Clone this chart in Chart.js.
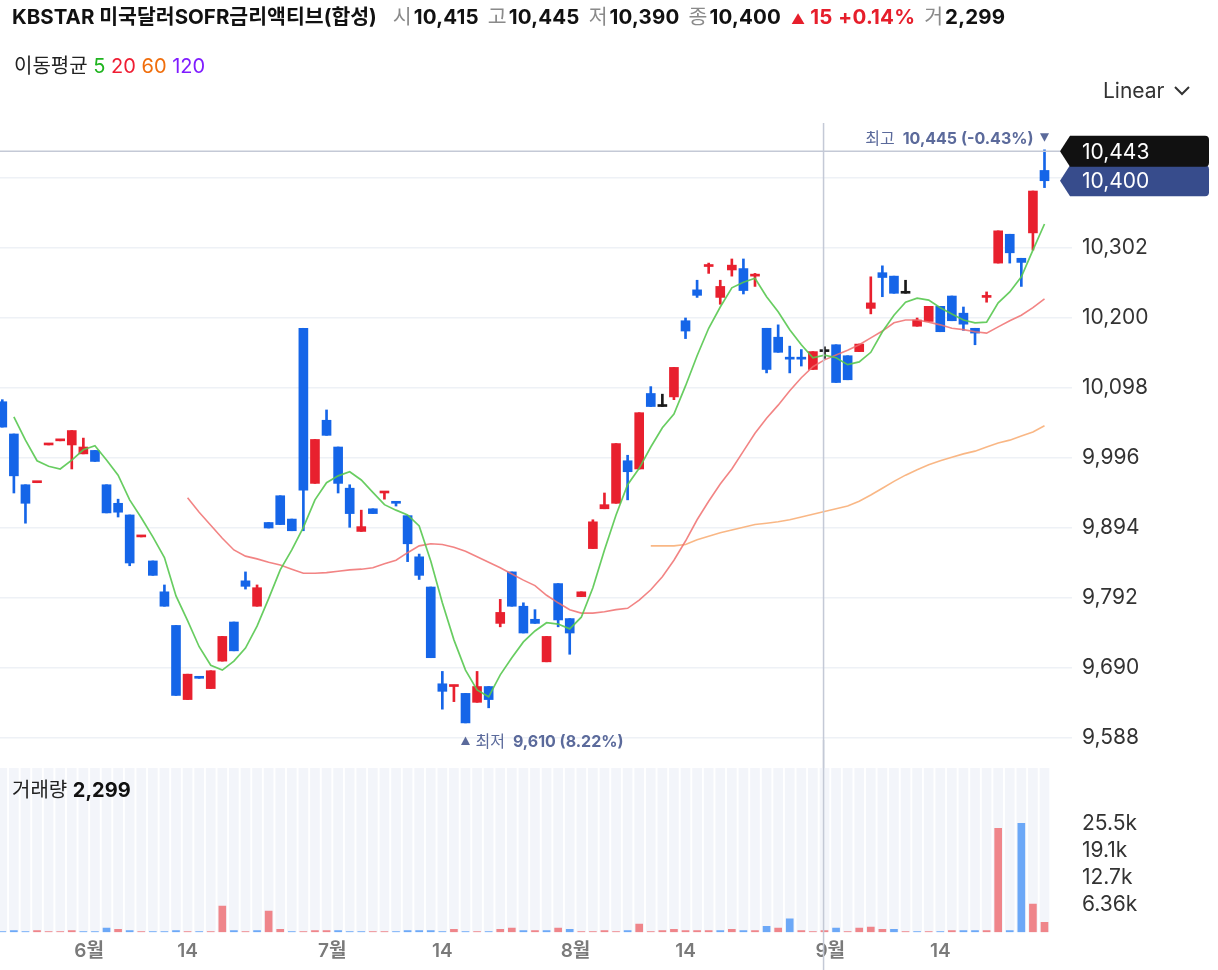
<!DOCTYPE html>
<html><head><meta charset="utf-8">
<script src="https://cdn.jsdelivr.net/npm/chart.js@4.4.1/dist/chart.umd.min.js"></script>
<style>
html,body{margin:0;padding:0;background:#fff;}
body{width:1218px;height:970px;position:relative;overflow:hidden;font-family:Inter,"Noto Sans CJK KR",sans-serif;color:#111;}
.abs{position:absolute;white-space:nowrap;}
#hdr{left:12px;top:4px;font-size:20.5px;line-height:26px;z-index:5;}
#hdr b{font-weight:700;color:#111;}
#hdr b.n{font-size:20.5px;letter-spacing:0.2px;}
.lb{color:#8a8a8a;margin-left:9px;margin-right:2px;}
.lb.first{margin-left:16px;}
.up{color:#e61e2b;margin-left:10px;}
.up b.n{color:#e61e2b !important;}
.tri{font-size:14px;margin-right:5px;}
#ma{left:14px;top:53px;font-size:20px;line-height:26px;color:#222;z-index:5;}
#lin{left:1103px;top:78px;font-size:21px;line-height:26px;color:#333;z-index:5;}
#volt{left:12px;top:777px;font-size:20px;line-height:26px;color:#222;z-index:5;}
#volt b{font-weight:700;color:#111;}
#wa{left:0;top:0;width:1218px;height:790px;}
#wb{left:0;top:740px;width:1218px;height:240px;}
</style></head>
<body>
<div id="hdr" class="abs"></div>
<div id="ma" class="abs"></div>
<div id="lin" class="abs">Linear<svg width="18" height="12" style="margin-left:8px;vertical-align:1px"><polyline points="2,2 9,9 16,2" fill="none" stroke="#333" stroke-width="2"/></svg></div>
<div id="wa" class="abs"><canvas id="ca" width="1218" height="790"></canvas></div>
<div id="wb" class="abs"><canvas id="cb" width="1218" height="240"></canvas></div>
<div id="volt" class="abs"></div>
<script>
// ---------------- DATA ----------------
const title = 'KBSTAR 미국달러SOFR금리액티브(합성)';
const opens = [10078,10031,9957,9960,10015,10021,10015,10002,10007,9957,
9930,9913,9881,9846,9801,9752,9644,9675,9660,9700,
9757,9817,9780,9902,9941,9907,10185,9959,10051,10012,
9952,9889,9922,9945,9930,9912,9852,9808,9667,9663,
9653,9640,9663,9755,9830,9780,9761,9699,9813,9762,
9794,9864,9922,9930,9992,9980,10090,10071,10085,10196,
10241,10275,10230,10270,10272,10261,10185,10172,10141,10141,
10125,10151,10161,10145,10151,10214,10266,10261,10236,10188,
10195,10217,10232,10207,10185,10230,10280,10322,10287,10324,
10415];
const highs = [10081,10031,9957,9960,10015,10021,10036,10025,10007,9957,
9936,9913,9881,9846,9811,9752,9681,9675,9686,9736,
9757,9830,9811,9902,9941,9907,10185,10023,10066,10012,
9957,9920,9922,9945,9930,9912,9856,9808,9685,9665,
9653,9685,9663,9790,9830,9785,9775,9736,9813,9762,
9801,9906,9945,10017,10000,10062,10100,10089,10128,10200,
10255,10280,10255,10286,10286,10265,10185,10190,10159,10154,
10151,10158,10161,10145,10162,10260,10276,10261,10255,10200,
10217,10217,10232,10216,10185,10238,10327,10322,10287,10385,
10445];
const lows = [10041,9945,9901,9960,10015,10021,9980,10002,9991,9916,
9910,9839,9881,9825,9780,9650,9644,9675,9660,9700,
9715,9805,9780,9894,9899,9890,9890,9959,10029,9945,
9895,9889,9915,9936,9926,9845,9819,9705,9630,9641,
9610,9640,9632,9750,9780,9741,9755,9699,9750,9710,
9794,9864,9922,9930,9935,9980,10071,10071,10081,10170,
10230,10265,10220,10261,10235,10246,10120,10150,10120,10130,
10125,10141,10106,10110,10151,10206,10231,10236,10236,10188,
10195,10180,10196,10182,10161,10223,10280,10280,10246,10299,
10390];
const closes = [10041,9970,9930,9960,10015,10021,10036,10012,9991,9916,
9917,9843,9881,9825,9780,9650,9681,9675,9686,9736,
9715,9809,9807,9894,9899,9890,9949,10023,10029,9959,
9915,9896,9915,9945,9930,9871,9825,9705,9656,9663,
9610,9663,9644,9771,9780,9741,9755,9736,9760,9741,
9801,9903,9928,10017,9976,10062,10071,10071,10128,10181,
10233,10275,10246,10277,10240,10261,10125,10150,10140,10140,
10151,10151,10106,10110,10162,10222,10259,10236,10236,10197,
10217,10180,10196,10191,10178,10230,10327,10295,10281,10385,
10400];
const volumes = [150,400,150,400,150,150,400,150,150,950,
700,350,150,150,150,350,150,150,150,6130,
350,150,350,4950,700,150,150,350,350,350,
150,150,150,150,150,350,350,350,150,700,
150,150,150,700,950,350,350,350,950,700,
150,150,350,150,350,1900,150,350,700,350,
350,350,350,700,350,350,1400,950,3100,350,
150,350,950,150,950,1200,700,700,150,150,
150,150,350,350,350,350,24300,350,25452,6600,
2299];
const ma5From = 1;
const ma5 = [10056,10022,9992,9984,9980,9993,10008,10014,9993,
9971,9935,9909,9881,9851,9795,9759,9721,9694,9687,
9700,9719,9751,9791,9833,9862,9895,9935,9960,9970,
9976,9964,9946,9928,9920,9913,9897,9846,9785,9731,
9687,9658,9648,9680,9705,9728,9744,9756,9754,9747,
9764,9807,9862,9913,9957,9981,10012,10040,10060,10101,
10145,10185,10216,10244,10252,10258,10231,10209,10183,10161,
10142,10146,10142,10132,10136,10150,10180,10204,10223,10229,
10226,10215,10206,10197,10193,10194,10222,10238,10260,10299,
10337];
const ma20From = 16;
const ma20 = [9938,9917,9898,9879,
9862,9853,9849,9844,9840,9834,9828,9828,9829,9831,
9833,9834,9836,9842,9847,9858,9868,9871,9870,9866,
9860,9852,9844,9836,9827,9818,9810,9796,9785,9775,
9770,9770,9772,9775,9777,9789,9804,9823,9847,9875,
9906,9933,9958,9980,10006,10032,10054,10073,10094,10113,
10129,10139,10146,10153,10161,10171,10181,10193,10197,10197,
10194,10190,10185,10183,10180,10178,10187,10196,10204,10215,
10228];
const ma60From = 56;
const ma60 = [9868,9868,9868,9870,
9877,9882,9887,9891,9895,9899,9901,9903,9906,9910,
9914,9918,9922,9926,9933,9942,9952,9962,9971,9979,
9986,9992,9997,10002,10006,10012,10018,10022,10028,10034,
10043];
const priceTicks = [9588,9690,9792,9894,9996,10098,10200,10302,10404];
const volTicks = [6363,12726,19089,25452];
const volTickLabels = ['6.36k','12.7k','19.1k','25.5k'];
const xTickPos = [7.5,16,28.5,38,49.5,59,71.5,81];
const xTickLabels = ['6월','14','7월','14','8월','14','9월','14'];
const maPeriods = ['5','20','60','120'];
const crossIdx = 70.92, crossPrice = 10443;

// ---------------- STYLE ----------------
const FAM = 'Inter, "Noto Sans CJK KR", sans-serif';
Chart.defaults.font.family = FAM;
const RED = '#e8202e', BLUE = '#1565e8', BLACK = '#1a1a1a';
const VRED = '#ef858a', VBLUE = '#6ca8f7';
const MACOL = ['#1fb41f','#ef1d33','#f06e0c','#7f1cff'];
const MALINE = ['rgba(88,200,80,0.9)','rgba(240,110,110,0.85)','rgba(248,175,120,0.9)'];
const ANN = '#5b6a9b', CROSS = '#c4c9d6';
const X_MIN = -0.1986, X_MAX = 92.375;
const fmt = v => Math.round(v).toLocaleString('en-US');

const N = closes.length;
const candleColor = i => {
  const o = opens[i], c = closes[i];
  if (c > o) return RED;
  if (c < o) return BLUE;
  const p = i > 0 ? closes[i-1] : o;
  return c > p ? RED : (c < p ? BLUE : BLACK);
};
const cColors = closes.map((_, i) => candleColor(i));
const vColors = closes.map((c, i) => (i > 0 && c >= closes[i-1]) ? VRED : VBLUE);
const series = (arr, from) => arr.map((v, k) => ({x: from + k, y: v}));

// ---------------- HTML TEXT ----------------
const last = N - 1;
const chg = closes[last] - closes[last-1];
const pct = chg / closes[last-1] * 100;
document.getElementById('hdr').innerHTML =
  `<b>${title}</b><span class="lb first">시</span><b class="n">${fmt(opens[last])}</b>` +
  `<span class="lb">고</span><b class="n">${fmt(highs[last])}</b>` +
  `<span class="lb">저</span><b class="n">${fmt(lows[last])}</b>` +
  `<span class="lb">종</span><b class="n">${fmt(closes[last])}</b>` +
  `<span class="up"><span class="tri">${chg >= 0 ? '▲' : '▼'}</span><b class="n">${fmt(Math.abs(chg))}</b> <b class="n">${chg >= 0 ? '+' : ''}${pct.toFixed(2)}%</b></span>` +
  `<span class="lb">거</span><b class="n">${fmt(volumes[last])}</b>`;
document.getElementById('ma').innerHTML = '이동평균 ' +
  maPeriods.map((p, k) => `<span style="color:${MACOL[k]}">${p}</span>`).join(' ');
document.getElementById('volt').innerHTML = `거래량 <b>${fmt(volumes[last])}</b>`;

// ---------------- CHART A (price) ----------------
function drawTag(ctx, tipX, yc, rightX, color, text, textX) {
  const h = 15.5, lx = tipX + 10, r = 4;
  ctx.beginPath();
  ctx.moveTo(tipX, yc);
  ctx.lineTo(lx, yc - h);
  ctx.lineTo(rightX - r, yc - h);
  ctx.quadraticCurveTo(rightX, yc - h, rightX, yc - h + r);
  ctx.lineTo(rightX, yc + h - r);
  ctx.quadraticCurveTo(rightX, yc + h, rightX - r, yc + h);
  ctx.lineTo(lx, yc + h);
  ctx.closePath();
  ctx.fillStyle = color; ctx.fill();
  ctx.fillStyle = '#fff';
  ctx.font = '21px ' + FAM;
  ctx.textAlign = 'left'; ctx.textBaseline = 'middle';
  ctx.fillText(text, textX, yc + 1);
}
const overlayA = {
  id: 'overlayA',
  afterDraw(chart) {
    const {ctx, chartArea: ca, scales: {x, y}} = chart;
    ctx.save();
    const xc = x.getPixelForValue(crossIdx);
    const yc = y.getPixelForValue(crossPrice);
    ctx.strokeStyle = CROSS; ctx.lineWidth = 1.5;
    ctx.beginPath(); ctx.moveTo(xc, ca.top + 3); ctx.lineTo(xc, chart.height); ctx.stroke();
    ctx.beginPath(); ctx.moveTo(0, yc); ctx.lineTo(ca.right - 12, yc); ctx.stroke();

    // high annotation
    const hi = Math.max(...highs), hiI = highs.indexOf(hi);
    const hx = x.getPixelForValue(hiI), hy = y.getPixelForValue(hi) - 12;
    ctx.fillStyle = ANN; ctx.textBaseline = 'middle';
    ctx.beginPath(); ctx.moveTo(hx - 4.5, hy - 4.5); ctx.lineTo(hx + 4.5, hy - 4.5); ctx.lineTo(hx, hy + 4); ctx.closePath(); ctx.fill();
    const hiPct = (closes[last] - hi) / hi * 100;
    const t2 = `${fmt(hi)} (${hiPct.toFixed(2)}%)`;
    ctx.textAlign = 'right';
    ctx.font = 'bold 16px ' + FAM; ctx.fillText(t2, hx - 11, hy + 1);
    const w2 = ctx.measureText(t2).width;
    ctx.font = '16px ' + FAM; ctx.fillText('최고', hx - 11 - w2 - 8, hy + 1);

    // low annotation
    const lo = Math.min(...lows), loI = lows.indexOf(lo);
    const lx = x.getPixelForValue(loI), ly = y.getPixelForValue(lo) + 18;
    ctx.beginPath(); ctx.moveTo(lx - 4.5, ly + 4); ctx.lineTo(lx + 4.5, ly + 4); ctx.lineTo(lx, ly - 4.5); ctx.closePath(); ctx.fill();
    const loPct = (closes[last] - lo) / lo * 100;
    ctx.textAlign = 'left';
    ctx.font = '16px ' + FAM; ctx.fillText('최저', lx + 10, ly + 1);
    const w1 = ctx.measureText('최저').width;
    ctx.font = 'bold 16px ' + FAM; ctx.fillText(`${fmt(lo)} (${loPct.toFixed(2)}%)`, lx + 10 + w1 + 8, ly + 1);

    // price tags
    const rightX = chart.width - 9;
    drawTag(ctx, ca.right - 12, y.getPixelForValue(closes[last]), rightX, '#374c8c', fmt(closes[last]), ca.right + 10);
    drawTag(ctx, ca.right - 12, yc, rightX, '#111111', fmt(crossPrice), ca.right + 10);
    ctx.restore();
  }
};

new Chart(document.getElementById('ca'), {
  type: 'bar',
  data: {
    datasets: [
      {type: 'line', data: series(ma5, ma5From), borderColor: MALINE[0], borderWidth: 1.7, pointRadius: 0, order: 0},
      {type: 'line', data: series(ma20, ma20From), borderColor: MALINE[1], borderWidth: 1.6, pointRadius: 0, order: 0},
      {type: 'line', data: series(ma60, ma60From), borderColor: MALINE[2], borderWidth: 1.6, pointRadius: 0, order: 0},
      {type: 'bar', data: opens.map((o, i) => ({x: i, y: [o, closes[i]]})), backgroundColor: cColors,
        barThickness: 9, minBarLength: 2, grouped: false, order: 1},
      {type: 'bar', data: highs.map((h, i) => ({x: i, y: [lows[i], h]})), backgroundColor: cColors,
        barThickness: 2, grouped: false, order: 2}
    ]
  },
  options: {
    responsive: false, animation: false, events: [],
    layout: {padding: {top: 120, bottom: 24, left: 0, right: 0}, autoPadding: false},
    plugins: {legend: {display: false}, tooltip: {enabled: false}},
    scales: {
      x: {type: 'linear', min: X_MIN, max: X_MAX, offset: false, display: false},
      y: {type: 'linear', position: 'right', min: 9547.2, max: 10488.5,
        afterBuildTicks: s => { s.ticks = priceTicks.map(v => ({value: v})); },
        afterFit: s => { s.width = 146; },
        ticks: {callback: v => fmt(v), color: '#333', font: {size: 21}, padding: 10},
        grid: {color: '#eef1f6', lineWidth: 1.5, drawTicks: false},
        border: {display: false}}
    }
  },
  plugins: [overlayA]
});

// ---------------- CHART B (volume) ----------------
const VOL_AXIS_MAX = 38420;
const overlayB = {
  id: 'overlayB',
  afterDraw(chart) {
    const {ctx, scales: {x}} = chart;
    const xc = x.getPixelForValue(crossIdx);
    ctx.save();
    ctx.strokeStyle = CROSS; ctx.lineWidth = 1.5;
    ctx.beginPath(); ctx.moveTo(xc, 0); ctx.lineTo(xc, chart.height); ctx.stroke();
    ctx.restore();
  }
};
new Chart(document.getElementById('cb'), {
  type: 'bar',
  data: {
    datasets: [
      {data: closes.map((_, i) => ({x: i, y: [0, VOL_AXIS_MAX]})), backgroundColor: '#f3f5fa',
        barThickness: 9, grouped: false, order: 10},
      {data: volumes.map((v, i) => ({x: i, y: v})), backgroundColor: vColors,
        barThickness: 7, grouped: false, order: 1}
    ]
  },
  options: {
    responsive: false, animation: false, events: [],
    layout: {padding: {top: 28, bottom: 9, left: 0, right: 0}, autoPadding: false},
    plugins: {legend: {display: false}, tooltip: {enabled: false}},
    scales: {
      x: {type: 'linear', min: X_MIN, max: X_MAX, offset: false,
        afterBuildTicks: s => { s.ticks = xTickPos.map(v => ({value: v})); },
        ticks: {callback: (v, i) => xTickLabels[i], color: '#7a7a7a', font: {size: 19, weight: '600'},
          padding: 8, autoSkip: false, maxRotation: 0},
        grid: {display: false, drawTicks: false}, border: {display: false}},
      y: {type: 'linear', position: 'right', min: 0, max: VOL_AXIS_MAX,
        afterBuildTicks: s => { s.ticks = volTicks.map(v => ({value: v})); },
        afterFit: s => { s.width = 146; },
        ticks: {callback: (v, i) => volTickLabels[i], color: '#333', font: {size: 21}, padding: 10},
        grid: {display: false, drawTicks: false}, border: {display: false}}
    }
  },
  plugins: [overlayB]
});
</script>
</body></html>
